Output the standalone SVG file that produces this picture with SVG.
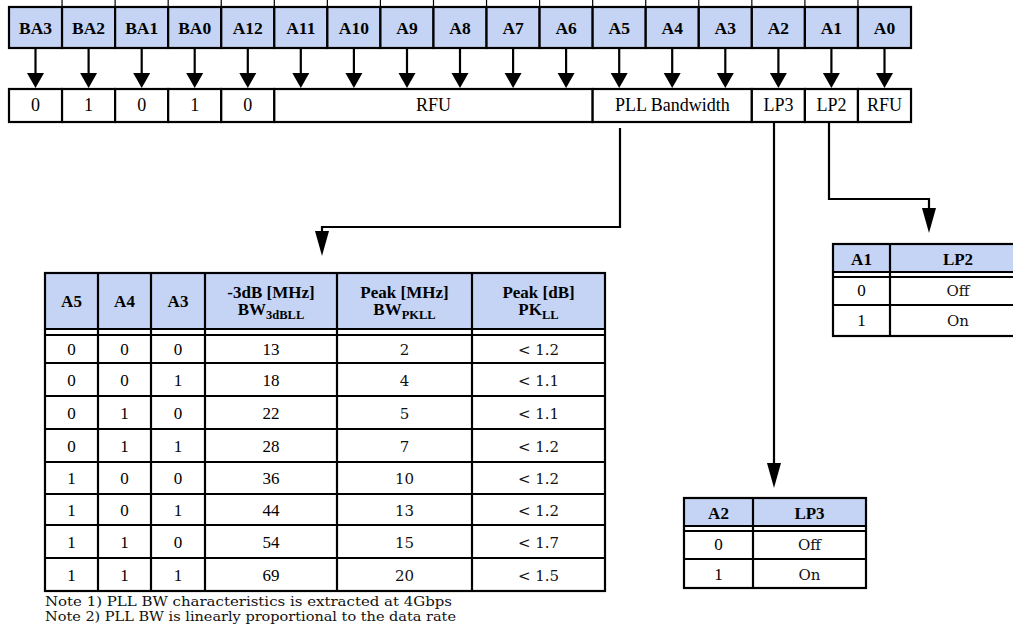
<svg xmlns="http://www.w3.org/2000/svg" xmlns:xlink="http://www.w3.org/1999/xlink" width="1013" height="635" viewBox="0 0 1013 635">
<style>
.cell{stroke:#000;stroke-width:2.2;}
.hf{fill:#C5D4F5;}
.wf{fill:#fff;}
.ln{stroke:#000;stroke-width:2.2;fill:none;}
.tk{stroke:#000;stroke-width:1.2;}
.hb{font-family:"Liberation Serif",serif;font-weight:bold;font-size:17.5px;text-anchor:middle;fill:#000;}
.tb{font-family:"Liberation Serif",serif;font-weight:bold;font-size:17px;text-anchor:middle;fill:#000;}
.rg{font-family:"Liberation Serif",serif;font-size:18px;text-anchor:middle;fill:#000;}
.dg{font-family:"Liberation Serif",serif;font-size:17px;text-anchor:middle;fill:#000;}
.bt{font-family:"DejaVu Serif",serif;font-size:15px;text-anchor:middle;fill:#111;}
.nt{font-family:"DejaVu Serif",serif;font-size:13px;fill:#111;}
.sub{font-size:12.5px;}
</style>
<defs>
<path id="hs" d="M-8.5,0 L8.5,0 L0,15 Z" fill="#000"/>
<path id="hl" d="M-7,0 L7,0 L0,25 Z" fill="#000"/>
</defs>
<rect x="0" y="0" width="1013" height="635" fill="#fff"/>

<g id="ticks">
<line class="tk" x1="62.06" y1="0" x2="62.06" y2="7"/><line class="tk" x1="115.12" y1="0" x2="115.12" y2="7"/><line class="tk" x1="168.18" y1="0" x2="168.18" y2="7"/><line class="tk" x1="221.24" y1="0" x2="221.24" y2="7"/><line class="tk" x1="274.3" y1="0" x2="274.3" y2="7"/><line class="tk" x1="327.36" y1="0" x2="327.36" y2="7"/><line class="tk" x1="380.42" y1="0" x2="380.42" y2="7"/><line class="tk" x1="433.48" y1="0" x2="433.48" y2="7"/><line class="tk" x1="486.54" y1="0" x2="486.54" y2="7"/><line class="tk" x1="539.6" y1="0" x2="539.6" y2="7"/><line class="tk" x1="592.66" y1="0" x2="592.66" y2="7"/><line class="tk" x1="645.72" y1="0" x2="645.72" y2="7"/><line class="tk" x1="698.78" y1="0" x2="698.78" y2="7"/><line class="tk" x1="751.84" y1="0" x2="751.84" y2="7"/><line class="tk" x1="804.9" y1="0" x2="804.9" y2="7"/><line class="tk" x1="857.96" y1="0" x2="857.96" y2="7"/>
</g>

<g id="register-bits">
<g id="bit-BA3"><rect class="cell hf" x="9" y="7" width="53.06" height="41"/><text class="hb" x="35.5" y="34">BA3</text></g>
<g id="bit-BA2"><rect class="cell hf" x="62.06" y="7" width="53.06" height="41"/><text class="hb" x="88.6" y="34">BA2</text></g>
<g id="bit-BA1"><rect class="cell hf" x="115.12" y="7" width="53.06" height="41"/><text class="hb" x="141.7" y="34">BA1</text></g>
<g id="bit-BA0"><rect class="cell hf" x="168.18" y="7" width="53.06" height="41"/><text class="hb" x="194.7" y="34">BA0</text></g>
<g id="bit-A12"><rect class="cell hf" x="221.24" y="7" width="53.06" height="41"/><text class="hb" x="247.8" y="34">A12</text></g>
<g id="bit-A11"><rect class="cell hf" x="274.3" y="7" width="53.06" height="41"/><text class="hb" x="300.8" y="34">A11</text></g>
<g id="bit-A10"><rect class="cell hf" x="327.36" y="7" width="53.06" height="41"/><text class="hb" x="353.9" y="34">A10</text></g>
<g id="bit-A9"><rect class="cell hf" x="380.42" y="7" width="53.06" height="41"/><text class="hb" x="407" y="34">A9</text></g>
<g id="bit-A8"><rect class="cell hf" x="433.48" y="7" width="53.06" height="41"/><text class="hb" x="460" y="34">A8</text></g>
<g id="bit-A7"><rect class="cell hf" x="486.54" y="7" width="53.06" height="41"/><text class="hb" x="513.1" y="34">A7</text></g>
<g id="bit-A6"><rect class="cell hf" x="539.6" y="7" width="53.06" height="41"/><text class="hb" x="566.1" y="34">A6</text></g>
<g id="bit-A5"><rect class="cell hf" x="592.66" y="7" width="53.06" height="41"/><text class="hb" x="619.2" y="34">A5</text></g>
<g id="bit-A4"><rect class="cell hf" x="645.72" y="7" width="53.06" height="41"/><text class="hb" x="672.2" y="34">A4</text></g>
<g id="bit-A3"><rect class="cell hf" x="698.78" y="7" width="53.06" height="41"/><text class="hb" x="725.3" y="34">A3</text></g>
<g id="bit-A2"><rect class="cell hf" x="751.84" y="7" width="53.06" height="41"/><text class="hb" x="778.4" y="34">A2</text></g>
<g id="bit-A1"><rect class="cell hf" x="804.9" y="7" width="53.06" height="41"/><text class="hb" x="831.4" y="34">A1</text></g>
<g id="bit-A0"><rect class="cell hf" x="857.96" y="7" width="53.06" height="41"/><text class="hb" x="884.5" y="34">A0</text></g>
</g>

<g id="register-values">
<g id="val-BA3"><rect class="cell wf" x="9" y="89" width="53.06" height="33"/><text class="rg" x="35.5" y="111">0</text></g>
<g id="val-BA2"><rect class="cell wf" x="62.06" y="89" width="53.06" height="33"/><text class="rg" x="88.6" y="111">1</text></g>
<g id="val-BA1"><rect class="cell wf" x="115.12" y="89" width="53.06" height="33"/><text class="rg" x="141.7" y="111">0</text></g>
<g id="val-BA0"><rect class="cell wf" x="168.18" y="89" width="53.06" height="33"/><text class="rg" x="194.7" y="111">1</text></g>
<g id="val-A12"><rect class="cell wf" x="221.24" y="89" width="53.06" height="33"/><text class="rg" x="247.8" y="111">0</text></g>
<g id="val-RFU-hi"><rect class="cell wf" x="274.3" y="89" width="318.36" height="33"/><text class="rg" x="433.5" y="111">RFU</text></g>
<g id="val-PLL"><rect class="cell wf" x="592.66" y="89" width="159.18" height="33"/><text class="rg" x="672.3" y="111">PLL Bandwidth</text></g>
<g id="val-LP3"><rect class="cell wf" x="751.84" y="89" width="53.06" height="33"/><text class="rg" x="778.4" y="111">LP3</text></g>
<g id="val-LP2"><rect class="cell wf" x="804.9" y="89" width="53.06" height="33"/><text class="rg" x="831.4" y="111">LP2</text></g>
<g id="val-RFU-lo"><rect class="cell wf" x="857.96" y="89" width="53.06" height="33"/><text class="rg" x="884.5" y="111">RFU</text></g>
</g>

<g id="connectors">
<g id="bit-arrows">
<line class="ln" x1="35.5" y1="48" x2="35.5" y2="75"/><use href="#hs" x="35.5" y="73"/>
<line class="ln" x1="88.6" y1="48" x2="88.6" y2="75"/><use href="#hs" x="88.6" y="73"/>
<line class="ln" x1="141.7" y1="48" x2="141.7" y2="75"/><use href="#hs" x="141.7" y="73"/>
<line class="ln" x1="194.7" y1="48" x2="194.7" y2="75"/><use href="#hs" x="194.7" y="73"/>
<line class="ln" x1="247.8" y1="48" x2="247.8" y2="75"/><use href="#hs" x="247.8" y="73"/>
<line class="ln" x1="300.8" y1="48" x2="300.8" y2="75"/><use href="#hs" x="300.8" y="73"/>
<line class="ln" x1="353.9" y1="48" x2="353.9" y2="75"/><use href="#hs" x="353.9" y="73"/>
<line class="ln" x1="407" y1="48" x2="407" y2="75"/><use href="#hs" x="407" y="73"/>
<line class="ln" x1="460" y1="48" x2="460" y2="75"/><use href="#hs" x="460" y="73"/>
<line class="ln" x1="513.1" y1="48" x2="513.1" y2="75"/><use href="#hs" x="513.1" y="73"/>
<line class="ln" x1="566.1" y1="48" x2="566.1" y2="75"/><use href="#hs" x="566.1" y="73"/>
<line class="ln" x1="619.2" y1="48" x2="619.2" y2="75"/><use href="#hs" x="619.2" y="73"/>
<line class="ln" x1="672.2" y1="48" x2="672.2" y2="75"/><use href="#hs" x="672.2" y="73"/>
<line class="ln" x1="725.3" y1="48" x2="725.3" y2="75"/><use href="#hs" x="725.3" y="73"/>
<line class="ln" x1="778.4" y1="48" x2="778.4" y2="75"/><use href="#hs" x="778.4" y="73"/>
<line class="ln" x1="831.4" y1="48" x2="831.4" y2="75"/><use href="#hs" x="831.4" y="73"/>
<line class="ln" x1="884.5" y1="48" x2="884.5" y2="75"/><use href="#hs" x="884.5" y="73"/>
</g>
<path id="conn-pll" class="ln" d="M620,128 V227 H322 V234"/><use href="#hl" x="322" y="231"/>
<path id="conn-lp3" class="ln" d="M774,122 V466"/><use href="#hl" x="774" y="463"/>
<path id="conn-lp2" class="ln" d="M829,122 V199 H929 V211"/><use href="#hl" x="929" y="208"/>
</g>

<g id="table-pll">
<rect class="hf" x="45" y="273" width="560" height="56"/>
<g class="ln">
<rect x="45" y="273" width="560" height="318"/>
<line x1="45" y1="329" x2="605" y2="329"/><line x1="45" y1="335" x2="605" y2="335"/>
<line x1="45" y1="363" x2="605" y2="363"/><line x1="45" y1="396" x2="605" y2="396"/>
<line x1="45" y1="429" x2="605" y2="429"/><line x1="45" y1="462" x2="605" y2="462"/>
<line x1="45" y1="494" x2="605" y2="494"/><line x1="45" y1="525" x2="605" y2="525"/>
<line x1="45" y1="558" x2="605" y2="558"/>
<line x1="98" y1="273" x2="98" y2="591"/><line x1="151" y1="273" x2="151" y2="591"/>
<line x1="205" y1="273" x2="205" y2="591"/><line x1="337" y1="273" x2="337" y2="591"/>
<line x1="472" y1="273" x2="472" y2="591"/>
</g>
<text class="tb" x="71.5" y="307">A5</text>
<text class="tb" x="124.5" y="307">A4</text>
<text class="tb" x="178" y="307">A3</text>
<text class="tb" x="271" y="298">-3dB [MHz]</text>
<text class="tb" x="271" y="315">BW<tspan class="sub" dy="4">3dBLL</tspan></text>
<text class="tb" x="404.5" y="298">Peak [MHz]</text>
<text class="tb" x="404.5" y="315">BW<tspan class="sub" dy="4">PKLL</tspan></text>
<text class="tb" x="538.5" y="298">Peak [dB]</text>
<text class="tb" x="538.5" y="315">PK<tspan class="sub" dy="4">LL</tspan></text>
<g id="row1"><text class="dg" x="71.5" y="355">0</text><text class="dg" x="124.5" y="355">0</text><text class="dg" x="178" y="355">0</text><text class="dg" x="271" y="355">13</text><text class="bt" x="404.5" y="355">2</text><text class="bt" x="538.5" y="355">&lt; 1.2</text></g>
<g id="row2"><text class="dg" x="71.5" y="385.5">0</text><text class="dg" x="124.5" y="385.5">0</text><text class="dg" x="178" y="385.5">1</text><text class="dg" x="271" y="385.5">18</text><text class="bt" x="404.5" y="385.5">4</text><text class="bt" x="538.5" y="385.5">&lt; 1.1</text></g>
<g id="row3"><text class="dg" x="71.5" y="418.5">0</text><text class="dg" x="124.5" y="418.5">1</text><text class="dg" x="178" y="418.5">0</text><text class="dg" x="271" y="418.5">22</text><text class="bt" x="404.5" y="418.5">5</text><text class="bt" x="538.5" y="418.5">&lt; 1.1</text></g>
<g id="row4"><text class="dg" x="71.5" y="451.5">0</text><text class="dg" x="124.5" y="451.5">1</text><text class="dg" x="178" y="451.5">1</text><text class="dg" x="271" y="451.5">28</text><text class="bt" x="404.5" y="451.5">7</text><text class="bt" x="538.5" y="451.5">&lt; 1.2</text></g>
<g id="row5"><text class="dg" x="71.5" y="484">1</text><text class="dg" x="124.5" y="484">0</text><text class="dg" x="178" y="484">0</text><text class="dg" x="271" y="484">36</text><text class="bt" x="404.5" y="484">10</text><text class="bt" x="538.5" y="484">&lt; 1.2</text></g>
<g id="row6"><text class="dg" x="71.5" y="515.5">1</text><text class="dg" x="124.5" y="515.5">0</text><text class="dg" x="178" y="515.5">1</text><text class="dg" x="271" y="515.5">44</text><text class="bt" x="404.5" y="515.5">13</text><text class="bt" x="538.5" y="515.5">&lt; 1.2</text></g>
<g id="row7"><text class="dg" x="71.5" y="547.5">1</text><text class="dg" x="124.5" y="547.5">1</text><text class="dg" x="178" y="547.5">0</text><text class="dg" x="271" y="547.5">54</text><text class="bt" x="404.5" y="547.5">15</text><text class="bt" x="538.5" y="547.5">&lt; 1.7</text></g>
<g id="row8"><text class="dg" x="71.5" y="580.5">1</text><text class="dg" x="124.5" y="580.5">1</text><text class="dg" x="178" y="580.5">1</text><text class="dg" x="271" y="580.5">69</text><text class="bt" x="404.5" y="580.5">20</text><text class="bt" x="538.5" y="580.5">&lt; 1.5</text></g>
</g>

<g id="notes">
<text class="nt" x="45" y="606" textLength="407" lengthAdjust="spacingAndGlyphs">Note 1) PLL BW characteristics is extracted at 4Gbps</text>
<text class="nt" x="45" y="621" textLength="411" lengthAdjust="spacingAndGlyphs">Note 2) PLL BW is linearly proportional to the data rate</text>
</g>

<g id="table-lp2">
<rect class="hf" x="833" y="244" width="193" height="28"/>
<g class="ln">
<rect x="833" y="244" width="193" height="92"/>
<line x1="833" y1="272" x2="1026" y2="272"/><line x1="833" y1="277" x2="1026" y2="277"/>
<line x1="833" y1="305" x2="1026" y2="305"/>
<line x1="890" y1="244" x2="890" y2="336"/>
</g>
<text class="tb" x="861.5" y="265">A1</text>
<text class="tb" x="958" y="265">LP2</text>
<text class="dg" x="861.5" y="296">0</text><text class="bt" x="958" y="296">Off</text>
<text class="dg" x="861.5" y="326">1</text><text class="bt" x="958" y="326">On</text>
</g>

<g id="table-lp3">
<rect class="hf" x="684" y="498" width="182" height="28"/>
<g class="ln">
<rect x="684" y="498" width="182" height="90"/>
<line x1="684" y1="526" x2="866" y2="526"/><line x1="684" y1="531" x2="866" y2="531"/>
<line x1="684" y1="559" x2="866" y2="559"/>
<line x1="753" y1="498" x2="753" y2="588"/>
</g>
<text class="tb" x="718.5" y="519">A2</text>
<text class="tb" x="809.5" y="519">LP3</text>
<text class="dg" x="718.5" y="550">0</text><text class="bt" x="809.5" y="550">Off</text>
<text class="dg" x="718.5" y="580">1</text><text class="bt" x="809.5" y="580">On</text>
</g>
</svg>
